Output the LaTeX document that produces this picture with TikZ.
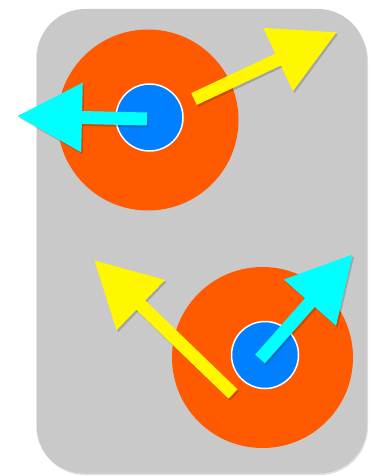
\documentclass[tikz,border=0pt]{standalone}
\usetikzlibrary{arrows.meta,shadows}
\definecolor{bggray}{HTML}{C9C9C9}
\definecolor{orng}{HTML}{FF5A00}
\definecolor{blu}{HTML}{0080FF}
\definecolor{yel}{HTML}{FFF700}
\definecolor{cyn}{HTML}{00FFFF}
\tikzset{
  disc/.style={circle,inner sep=0pt,minimum size=#1},
  bigdisc/.style={disc=181pt,fill=orng},
  smalldisc/.style={disc=67pt,fill=blu,draw=white,line width=1.5pt},
  fatarrow/.style={line width=13pt,draw=#1,-{Triangle[length=65pt,width=66pt]}},
  arrshadow/.style={line width=13pt,draw=black,opacity=0.18,-{Triangle[length=65pt,width=66pt]},transform canvas={xshift=1.5pt,yshift=-2pt}}
}
\begin{document}
\begin{tikzpicture}[x=1pt,y=-1pt]
\useasboundingbox (0,0) rectangle (372,476);
% shadow of panel
\fill[black,opacity=0.12,rounded corners=48pt] (37,13) rectangle (368,475);
\fill[black,opacity=0.10,rounded corners=48pt] (36,11) rectangle (367,473.5);
\fill[bggray,rounded corners=48pt] (37,9) rectangle (366,471);
% top group
\node[bigdisc] (o1) at (148,120) {};
\node[smalldisc] (b1) at (149.5,117.5) {};
\coordinate (y1s) at (194,99);
\coordinate (y1e) at (337,32);
\coordinate (c1s) at (147,119);
\coordinate (c1e) at (17,116);
\draw[arrshadow] (y1s) -- (y1e);
\draw[fatarrow=yel] (y1s) -- (y1e);
\draw[arrshadow] (c1s) -- (c1e);
\draw[fatarrow=cyn] (c1s) -- (c1e);
% bottom group
\node[bigdisc] (o2) at (262.5,357.5) {};
\node[smalldisc] (b2) at (265,355) {};
\coordinate (y2s) at (233,394);
\coordinate (y2e) at (94,260);
\coordinate (c2s) at (260,359);
\coordinate (c2e) at (353,254);
\draw[arrshadow] (y2s) -- (y2e);
\draw[fatarrow=yel] (y2s) -- (y2e);
\draw[arrshadow] (c2s) -- (c2e);
\draw[fatarrow=cyn] (c2s) -- (c2e);
\end{tikzpicture}
\end{document}
